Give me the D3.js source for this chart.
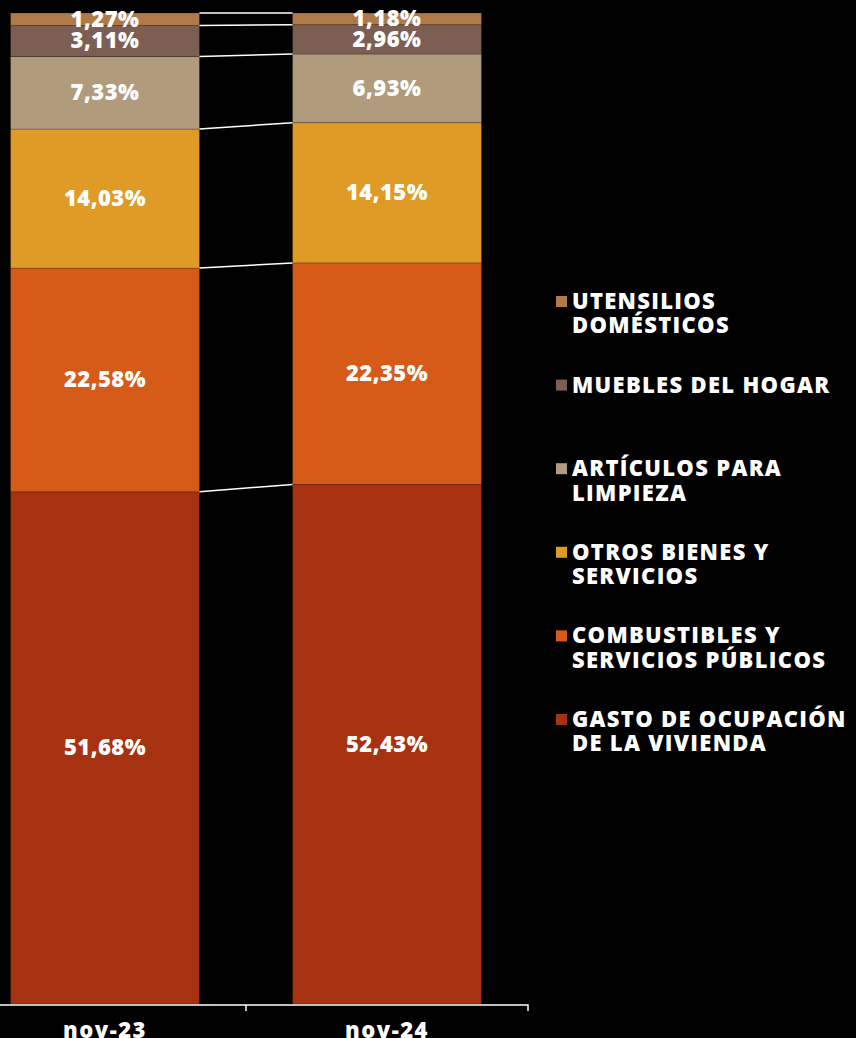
<!DOCTYPE html>
<html>
<head>
<meta charset="utf-8">
<script src="https://cdn.jsdelivr.net/npm/d3@7"></script>
<style>
  html, body { margin: 0; padding: 0; background: #000; }
  svg { display: block; }
  text { font-family: "Open Sans", "Lato", sans-serif; font-weight: 800; fill: #fff; }
</style>
</head>
<body>
<svg id="chart" width="856" height="1038"></svg>
<script>
// Data
const periods = ["nov-23", "nov-24"];
const series = [
  "GASTO DE OCUPACIÓN DE LA VIVIENDA",
  "COMBUSTIBLES Y SERVICIOS PÚBLICOS",
  "OTROS BIENES Y SERVICIOS",
  "ARTÍCULOS PARA LIMPIEZA",
  "MUEBLES DEL HOGAR",
  "UTENSILIOS DOMÉSTICOS"
];
const nov23 = [51.68, 22.58, 14.03, 7.33, 3.11, 1.27];
const nov24 = [52.43, 22.35, 14.15, 6.93, 2.96, 1.18];
const legendLines = [
  ["GASTO DE OCUPACIÓN", "DE LA VIVIENDA"],
  ["COMBUSTIBLES Y", "SERVICIOS PÚBLICOS"],
  ["OTROS BIENES Y", "SERVICIOS"],
  ["ARTÍCULOS PARA", "LIMPIEZA"],
  ["MUEBLES DEL HOGAR"],
  ["UTENSILIOS", "DOMÉSTICOS"]
];
const colors = ["#a63212", "#d65a18", "#e09a26", "#b09b7c", "#7c5e52", "#b07a48"];

const rows = periods.map((p, i) => {
  const r = { period: p };
  series.forEach((s, j) => r[s] = (i === 0 ? nov23 : nov24)[j]);
  return r;
});

const svg = d3.select("#chart");
const fmt = v => d3.format(".2f")(v).replace(".", ",") + "%";

const x = d3.scaleBand().domain(periods).range([-36, 528]).paddingInner(0.33).paddingOuter(0.165);
const y = d3.scaleLinear().domain([0, 100]).range([1004, 13]);
const color = d3.scaleOrdinal().domain(series).range(colors);

const stacked = d3.stack().keys(series)(rows);

// Segments
const layers = svg.append("g")
  .selectAll("g")
  .data(stacked)
  .join("g")
  .attr("fill", d => color(d.key));

layers.selectAll("rect")
  .data(d => d)
  .join("rect")
  .attr("x", d => x(d.data.period))
  .attr("y", d => y(d[1]))
  .attr("width", x.bandwidth())
  .attr("height", d => y(d[0]) - y(d[1]))
  .attr("stroke", "rgba(0,0,0,0.25)")
  .attr("stroke-width", 0.8);

// Connector lines between bars
svg.append("g")
  .selectAll("line")
  .data(stacked)
  .join("line")
  .attr("x1", x(periods[0]) + x.bandwidth())
  .attr("x2", x(periods[1]))
  .attr("y1", d => y(d[0][1]))
  .attr("y2", d => y(d[1][1]))
  .attr("stroke", "#fff")
  .attr("stroke-width", 1.5);

// Value labels
layers.selectAll("text")
  .data(d => d)
  .join("text")
  .attr("x", d => x(d.data.period) + x.bandwidth() / 2)
  .attr("y", d => (y(d[0]) + y(d[1])) / 2)
  .attr("dy", "0.34em")
  .attr("text-anchor", "middle")
  .style("font-size", "22px")
  .style("letter-spacing", "0.5px")
  .text(d => fmt(d[1] - d[0]));

// X axis
const gx = svg.append("g")
  .attr("transform", `translate(0,${y(0) + 1})`)
  .call(d3.axisBottom(x).tickSize(0).tickPadding(17));
gx.select(".domain").attr("stroke", "#fff").attr("stroke-width", 1.5)
  .attr("d", "M0,0H528V6");
gx.selectAll("text").style("font-size", "22px").attr("fill", "#fff")
  .style("font-family", "'Open Sans', sans-serif").style("font-weight", 800)
  .style("letter-spacing", "1.5px");
gx.append("line")
  .attr("x1", x(periods[1]) - x.step() * x.paddingInner() / 2)
  .attr("x2", x(periods[1]) - x.step() * x.paddingInner() / 2)
  .attr("y1", 0).attr("y2", 6)
  .attr("stroke", "#fff").attr("stroke-width", 1.5);

// Legend (top entry = last series)
const legend = svg.append("g").attr("transform", "translate(556,0)");
const order = series.map((s, i) => i).reverse();
const item = legend.selectAll("g")
  .data(order)
  .join("g")
  .attr("transform", (d, k) => `translate(0,${301 + k * 83.6})`);

item.append("rect")
  .attr("x", 0).attr("y", -5)
  .attr("width", 11).attr("height", 11)
  .attr("fill", d => colors[d]);

item.append("text")
  .attr("x", 16)
  .style("font-size", "22px")
  .style("letter-spacing", "1.3px")
  .selectAll("tspan")
  .data(d => legendLines[d])
  .join("tspan")
  .attr("x", 16)
  .attr("y", (d, i) => i * 24.5)
  .attr("dy", "0.36em")
  .text(d => d);
</script>
</body>
</html>
